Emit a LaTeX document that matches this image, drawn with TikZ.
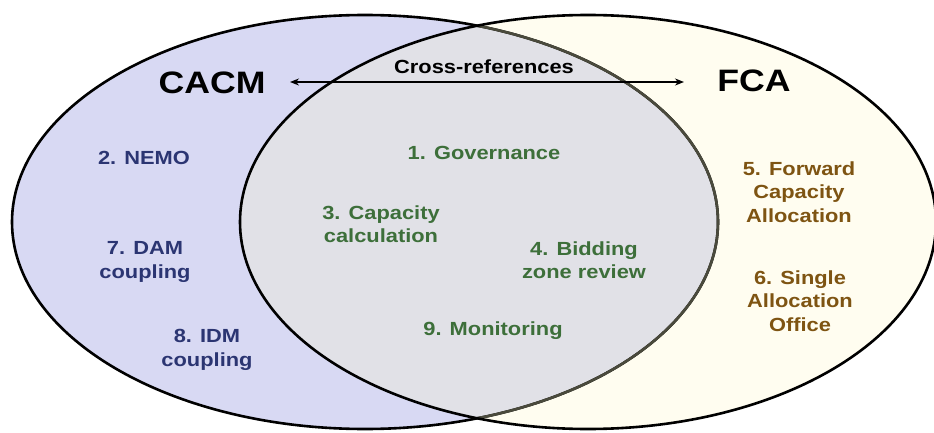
\documentclass[tikz,border=0pt]{standalone}
\usepackage{fontspec}
\setmainfont{Liberation Sans}[FakeStretch=1.15]
\usetikzlibrary{arrows.meta}

\definecolor{cacmfill}{HTML}{D8D9F3}
\definecolor{fcafill}{HTML}{FFFDF0}
\definecolor{bothfill}{HTML}{E1E1E7}
\definecolor{cacmtext}{HTML}{2B3572}
\definecolor{bothtext}{HTML}{3D6F3A}
\definecolor{fcatext}{HTML}{7E5412}
\definecolor{seam}{HTML}{4A4A3C}

\def\cacmset{(365,222) ellipse [x radius=353pt, y radius=207pt]}
\def\fcaset{(588,222) ellipse [x radius=348pt, y radius=207pt]}

\begin{document}
\begin{tikzpicture}[x=1pt,y=-1pt,line width=2.6pt,>={Stealth[length=9pt,width=7pt]},
 lbl/.style={font=\fontsize{19}{23.5}\selectfont\bfseries,align=center},
 title/.style={font=\fontsize{31}{36}\selectfont\bfseries}]
 \useasboundingbox (0,0) rectangle (934,433);
 \fill[cacmfill] \cacmset;
 \fill[fcafill] \fcaset;
 \begin{scope}
  \clip \cacmset;
  \fill[bothfill] \fcaset;
 \end{scope}
 \draw \cacmset;
 \begin{scope}
  \clip \fcaset;
  \draw[seam] \cacmset;
 \end{scope}
 \draw \fcaset;

 \node[title] (cacm) at (212,83) {CACM};
 \node[title] (fca) at (754,81) {FCA};
 \node[lbl] (xref) at (484,67) {Cross-references};
 \coordinate (xl) at (290,82);
 \coordinate (xr) at (684,82);
 \draw[<->,line width=1.4pt] (xl) -- (xr);

 \node[lbl,cacmtext] (nemo) at (144,158) {2. NEMO};
 \node[lbl,cacmtext] (dam) at (145,262) {7. DAM\\coupling};
 \node[lbl,cacmtext] (idm) at (207,350) {8. IDM\\coupling};

 \node[lbl,bothtext] (gov) at (484,153) {1. Governance};
 \node[lbl,bothtext] (capcalc) at (381,224) {3. Capacity\\calculation};
 \node[lbl,bothtext] (bzr) at (584,260) {4. Bidding\\zone review};
 \node[lbl,bothtext] (mon) at (493,331) {9. Monitoring};

 \node[lbl,fcatext] (fwd) at (799,192) {5. Forward\\Capacity\\Allocation};
 \node[lbl,fcatext] (sao) at (800,301) {6. Single\\Allocation\\Office};
\end{tikzpicture}
\end{document}
